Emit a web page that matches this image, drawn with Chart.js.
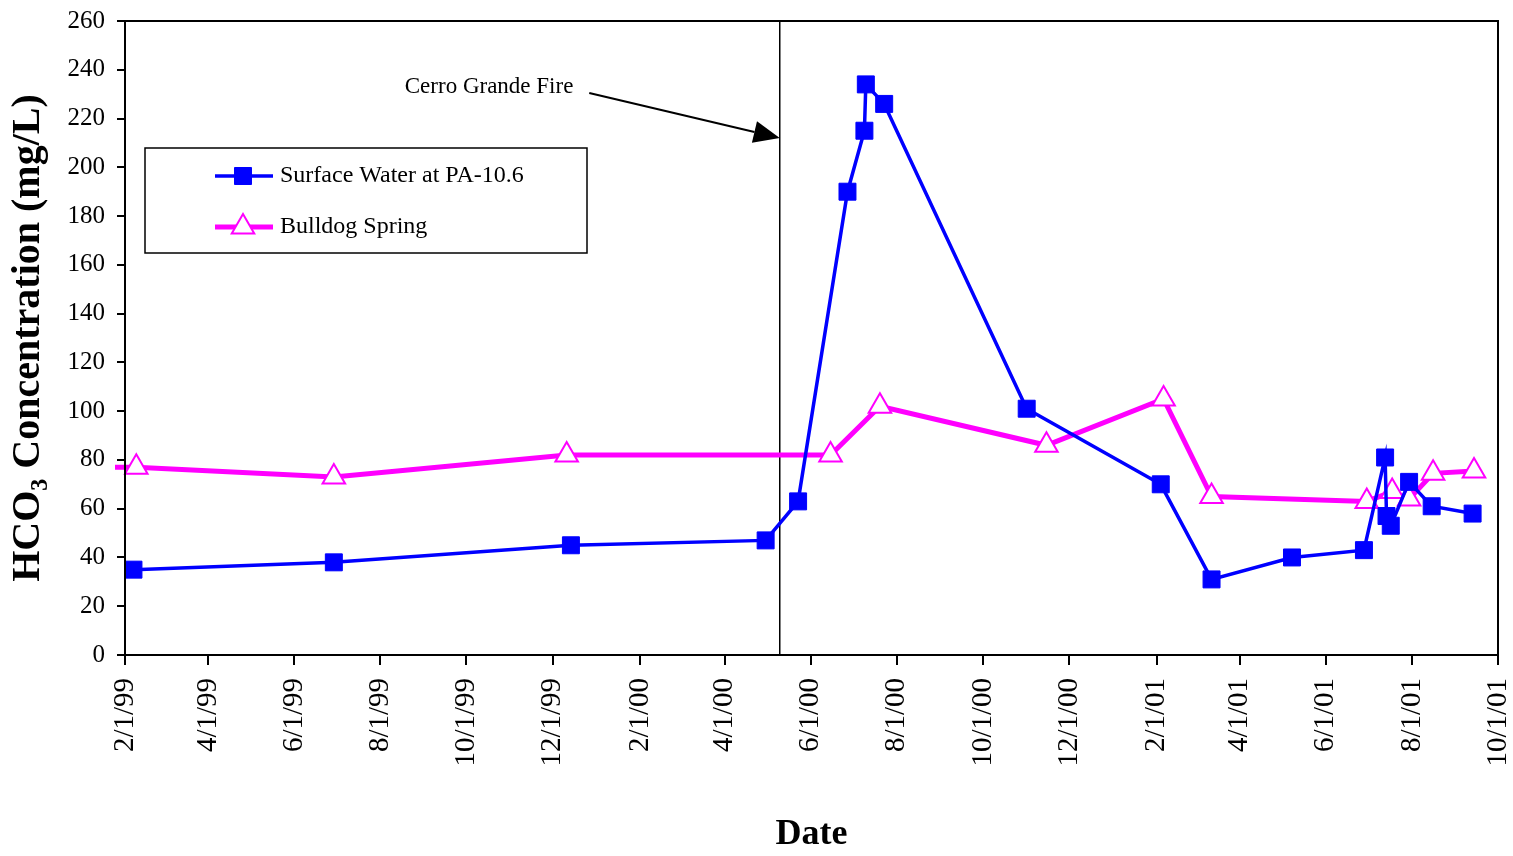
<!DOCTYPE html>
<html>
<head>
<meta charset="utf-8">
<script src="https://cdn.jsdelivr.net/npm/chart.js@4.4.0/dist/chart.umd.min.js"></script>
<style>
  body { margin: 0; background: #fff; }
</style>
</head>
<body>
<canvas id="chart" width="1513" height="856"></canvas>
<script>
// DATA
let surfaceDates = ["1999-02-07", "1999-06-29", "1999-12-14", "2000-04-30", "2000-05-23",
  "2000-06-27", "2000-07-09", "2000-07-10", "2000-07-23", "2000-11-01", "2001-02-04",
  "2001-03-12", "2001-05-08", "2001-06-28", "2001-07-13", "2001-07-14", "2001-07-17",
  "2001-07-30", "2001-08-15", "2001-09-13"];
let surfaceValues = [35, 38, 45, 47, 63, 190, 215, 234, 226, 101, 70, 31, 40, 43, 81, 57, 53, 71, 61, 58];

let springDates = ["1999-01-15", "1999-02-09", "1999-06-29", "1999-12-11", "2000-06-15",
  "2000-07-20", "2000-11-15", "2001-02-06", "2001-03-12", "2001-06-30", "2001-07-18",
  "2001-07-30", "2001-08-16", "2001-09-14"];
let springValues = [77, 77, 73, 82, 82, 102, 86, 105, 65, 63, 67, 64, 74.5, 75.5];

let tickLabels = ["2/1/99", "4/1/99", "6/1/99", "8/1/99", "10/1/99", "12/1/99", "2/1/00",
  "4/1/00", "6/1/00", "8/1/00", "10/1/00", "12/1/00", "2/1/01", "4/1/01", "6/1/01",
  "8/1/01", "10/1/01"];

let fireDate = "2000-05-10";

const FONT = "'Liberation Serif', 'Times New Roman', serif";

// day number from ISO date
function day(s) {
  let p = s.split("-");
  return Date.UTC(+p[0], +p[1] - 1, +p[2]) / 86400000;
}

// day number from m/d/yy label
function labelDay(s) {
  let p = s.split("/");
  let y = +p[2];
  y += y > 50 ? 1900 : 2000;
  return Date.UTC(y, +p[0] - 1, +p[1]) / 86400000;
}

let tickDays = tickLabels.map(labelDay);

function points(dates, values) {
  return dates.map((d, i) => ({ x: day(d), y: values[i] }));
}

// extra drawing: frame, fire line, note, legend
const decor = {
  id: "decor",
  beforeDatasetsDraw(chart) {
    let ctx = chart.ctx;
    let a = chart.chartArea;
    let x = chart.scales.x.getPixelForValue(day(fireDate));
    ctx.save();
    ctx.strokeStyle = "#000";
    ctx.lineWidth = 1.5;
    ctx.beginPath();
    ctx.moveTo(x, a.top);
    ctx.lineTo(x, a.bottom);
    ctx.stroke();
    ctx.restore();
  },
  afterDraw(chart) {
    let ctx = chart.ctx;
    let a = chart.chartArea;
    let xs = chart.scales.x, ys = chart.scales.y;
    ctx.save();

    // frame
    ctx.strokeStyle = "#000";
    ctx.lineWidth = 2;
    ctx.strokeRect(a.left, a.top, a.right - a.left, a.bottom - a.top);

    // note + arrow
    ctx.fillStyle = "#000";
    ctx.font = "23px " + FONT;
    ctx.textAlign = "center";
    ctx.textBaseline = "middle";
    ctx.fillText("Cerro Grande Fire", xs.getPixelForValue(day("1999-10-17")), ys.getPixelForValue(233));

    let x0 = xs.getPixelForValue(day("1999-12-27")), y0 = ys.getPixelForValue(230.5);
    let x1 = xs.getPixelForValue(day(fireDate)), y1 = ys.getPixelForValue(212);
    let ang = Math.atan2(y1 - y0, x1 - x0);
    let head = 26, half = 11;
    let bx = x1 - head * Math.cos(ang), by = y1 - head * Math.sin(ang);
    ctx.lineWidth = 2;
    ctx.beginPath();
    ctx.moveTo(x0, y0);
    ctx.lineTo(bx, by);
    ctx.stroke();
    ctx.beginPath();
    ctx.moveTo(x1, y1);
    ctx.lineTo(bx + half * Math.sin(ang), by - half * Math.cos(ang));
    ctx.lineTo(bx - half * Math.sin(ang), by + half * Math.cos(ang));
    ctx.closePath();
    ctx.fill();

    // legend
    let lx = 145, ly = 148, lw = 442, lh = 105;
    ctx.fillStyle = "#fff";
    ctx.fillRect(lx, ly, lw, lh);
    ctx.lineWidth = 1.5;
    ctx.strokeRect(lx, ly, lw, lh);

    ctx.font = "24px " + FONT;
    ctx.textAlign = "left";
    chart.data.datasets.forEach((ds, i) => {
      let y = ly + 28 + i * 51;
      ctx.strokeStyle = ds.borderColor;
      ctx.lineWidth = ds.borderWidth;
      ctx.beginPath();
      ctx.moveTo(215, y);
      ctx.lineTo(273, y);
      ctx.stroke();
      ctx.fillStyle = ds.pointBackgroundColor;
      ctx.strokeStyle = ds.pointBorderColor;
      ctx.lineWidth = ds.pointBorderWidth;
      Chart.helpers.drawPoint(ctx, { pointStyle: ds.pointStyle, radius: ds.pointRadius, borderWidth: ds.pointBorderWidth }, 243, y);
      ctx.fillStyle = "#000";
      ctx.fillText(ds.label, 280, y);
    });

    ctx.restore();
  }
};

new Chart(document.getElementById("chart"), {
  type: "line",
  data: {
    datasets: [
      {
        label: "Surface Water at PA-10.6",
        data: points(surfaceDates, surfaceValues),
        borderColor: "#0000ff",
        borderWidth: 3.5,
        pointStyle: "rect",
        pointRadius: 12,
        pointBackgroundColor: "#0000ff",
        pointBorderColor: "#0000ff",
        pointBorderWidth: 1
      },
      {
        label: "Bulldog Spring",
        data: points(springDates, springValues),
        borderColor: "#ff00ff",
        borderWidth: 5,
        pointStyle: "triangle",
        pointRadius: 13,
        pointBackgroundColor: "#ffffff",
        pointBorderColor: "#ff00ff",
        pointBorderWidth: 2,
        clip: { left: 10, top: 5, right: 5, bottom: 5 }
      }
    ]
  },
  options: {
    responsive: false,
    animation: false,
    devicePixelRatio: 1,
    layout: { padding: { left: 0, right: 13, top: 21, bottom: 0 } },
    plugins: { legend: { display: false }, tooltip: { enabled: false } },
    elements: { line: { tension: 0 } },
    scales: {
      x: {
        type: "linear",
        min: day("1999-02-01"),
        max: day("2001-10-01"),
        afterBuildTicks: s => { s.ticks = tickDays.map(v => ({ value: v })); },
        afterFit: s => { s.height = 201; s.paddingLeft = 0; s.paddingRight = 0; },
        ticks: {
          autoSkip: false,
          minRotation: 90,
          maxRotation: 90,
          padding: 13,
          color: "#000",
          font: { family: FONT, size: 29 },
          callback: (v, i) => tickLabels[i]
        },
        grid: { drawOnChartArea: false, color: "#000", tickLength: 10, lineWidth: 2 },
        border: { color: "#000", width: 2 },
        title: {
          display: true,
          text: "Date",
          color: "#000",
          padding: 0,
          font: { family: FONT, size: 36, weight: "bold", lineHeight: 1.2 }
        }
      },
      y: {
        min: 0,
        max: 260,
        afterFit: s => { s.width = 125; s.paddingTop = 0; s.paddingBottom = 0; },
        ticks: {
          stepSize: 20,
          padding: 12,
          color: "#000",
          font: { family: FONT, size: 25 }
        },
        grid: { drawOnChartArea: false, color: "#000", tickLength: 8, lineWidth: 2 },
        border: { color: "#000", width: 2 },
        title: {
          display: true,
          text: "HCO\u2083 Concentration (mg/L)",
          color: "#000",
          padding: { top: 5, bottom: 0 },
          font: { family: FONT, size: 40, weight: "bold", lineHeight: 1.2 }
        }
      }
    }
  },
  plugins: [decor]
});
</script>
</body>
</html>
